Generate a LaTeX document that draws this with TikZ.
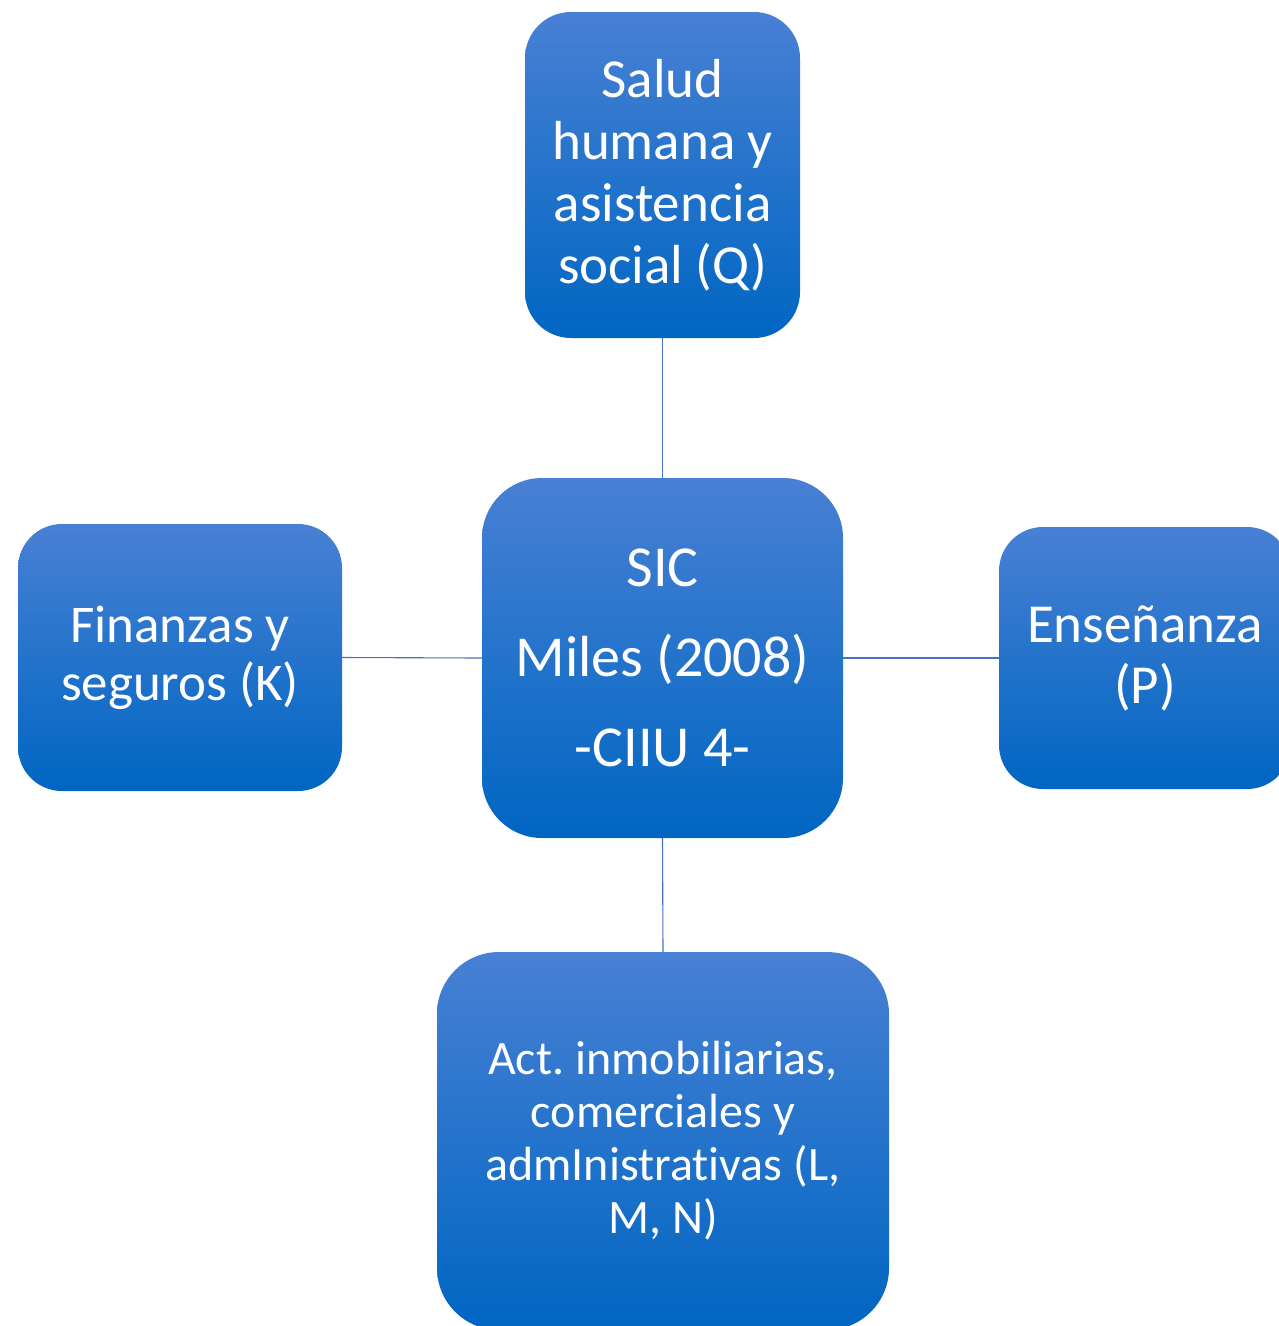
\documentclass[tikz,border=0pt]{standalone}
\usepackage{fontspec}
\setmainfont{Carlito}[Ligatures={NoCommon}]
\frenchspacing
\definecolor{gtop}{RGB}{72,128,212}
\definecolor{gmid}{RGB}{26,115,207}
\definecolor{gbot}{RGB}{0,102,194}
\definecolor{linkc}{RGB}{68,114,196}
\begin{document}
\begin{tikzpicture}[x=1pt,y=-1pt,
  box/.style={rectangle, inner sep=0pt, align=center, text=white,
    top color=gtop, middle color=gmid, bottom color=gbot, draw=none},
  link/.style={draw=linkc, line width=1.1pt}]
\useasboundingbox (0,0) rectangle (1279,1326);
\clip (0,0) rectangle (1279,1326);
\node[box, minimum width=275pt, minimum height=326pt, rounded corners=46pt,
  font=\fontsize{55}{62}\selectfont] (top) at (662.5,175)
  {Salud\\humana y\\asistencia\\social (Q)};
\node[box, minimum width=361pt, minimum height=360pt, rounded corners=60pt,
  font=\fontsize{58}{90}\selectfont] (center) at (662.5,658)
  {SIC\\Miles (2008)\\-CIIU 4-};
\node[box, minimum width=324pt, minimum height=267pt, rounded corners=44pt,
  font=\fontsize{53}{58}\selectfont] (left) at (180,657.5)
  {Finanzas y\\seguros (K)};
\node[box, minimum width=292pt, minimum height=262pt, rounded corners=44pt,
  font=\fontsize{55}{61}\selectfont] (right) at (1145,658)
  {Enseñanza\\(P)};
\node[box, minimum width=452pt, minimum height=378pt, rounded corners=62pt,
  font=\fontsize{48}{53}\selectfont] (bottom) at (663,1141)
  {Act. inmobiliarias,\\comerciales y\\admInistrativas (L,\\M, N)};
\draw[link] (top.south) -- (center.north);
\draw[link] (center.south) -- (bottom.north);
\draw[link] (left.east) -- (center.west);
\draw[link] (center.east) -- (right.west);
\end{tikzpicture}
\end{document}
